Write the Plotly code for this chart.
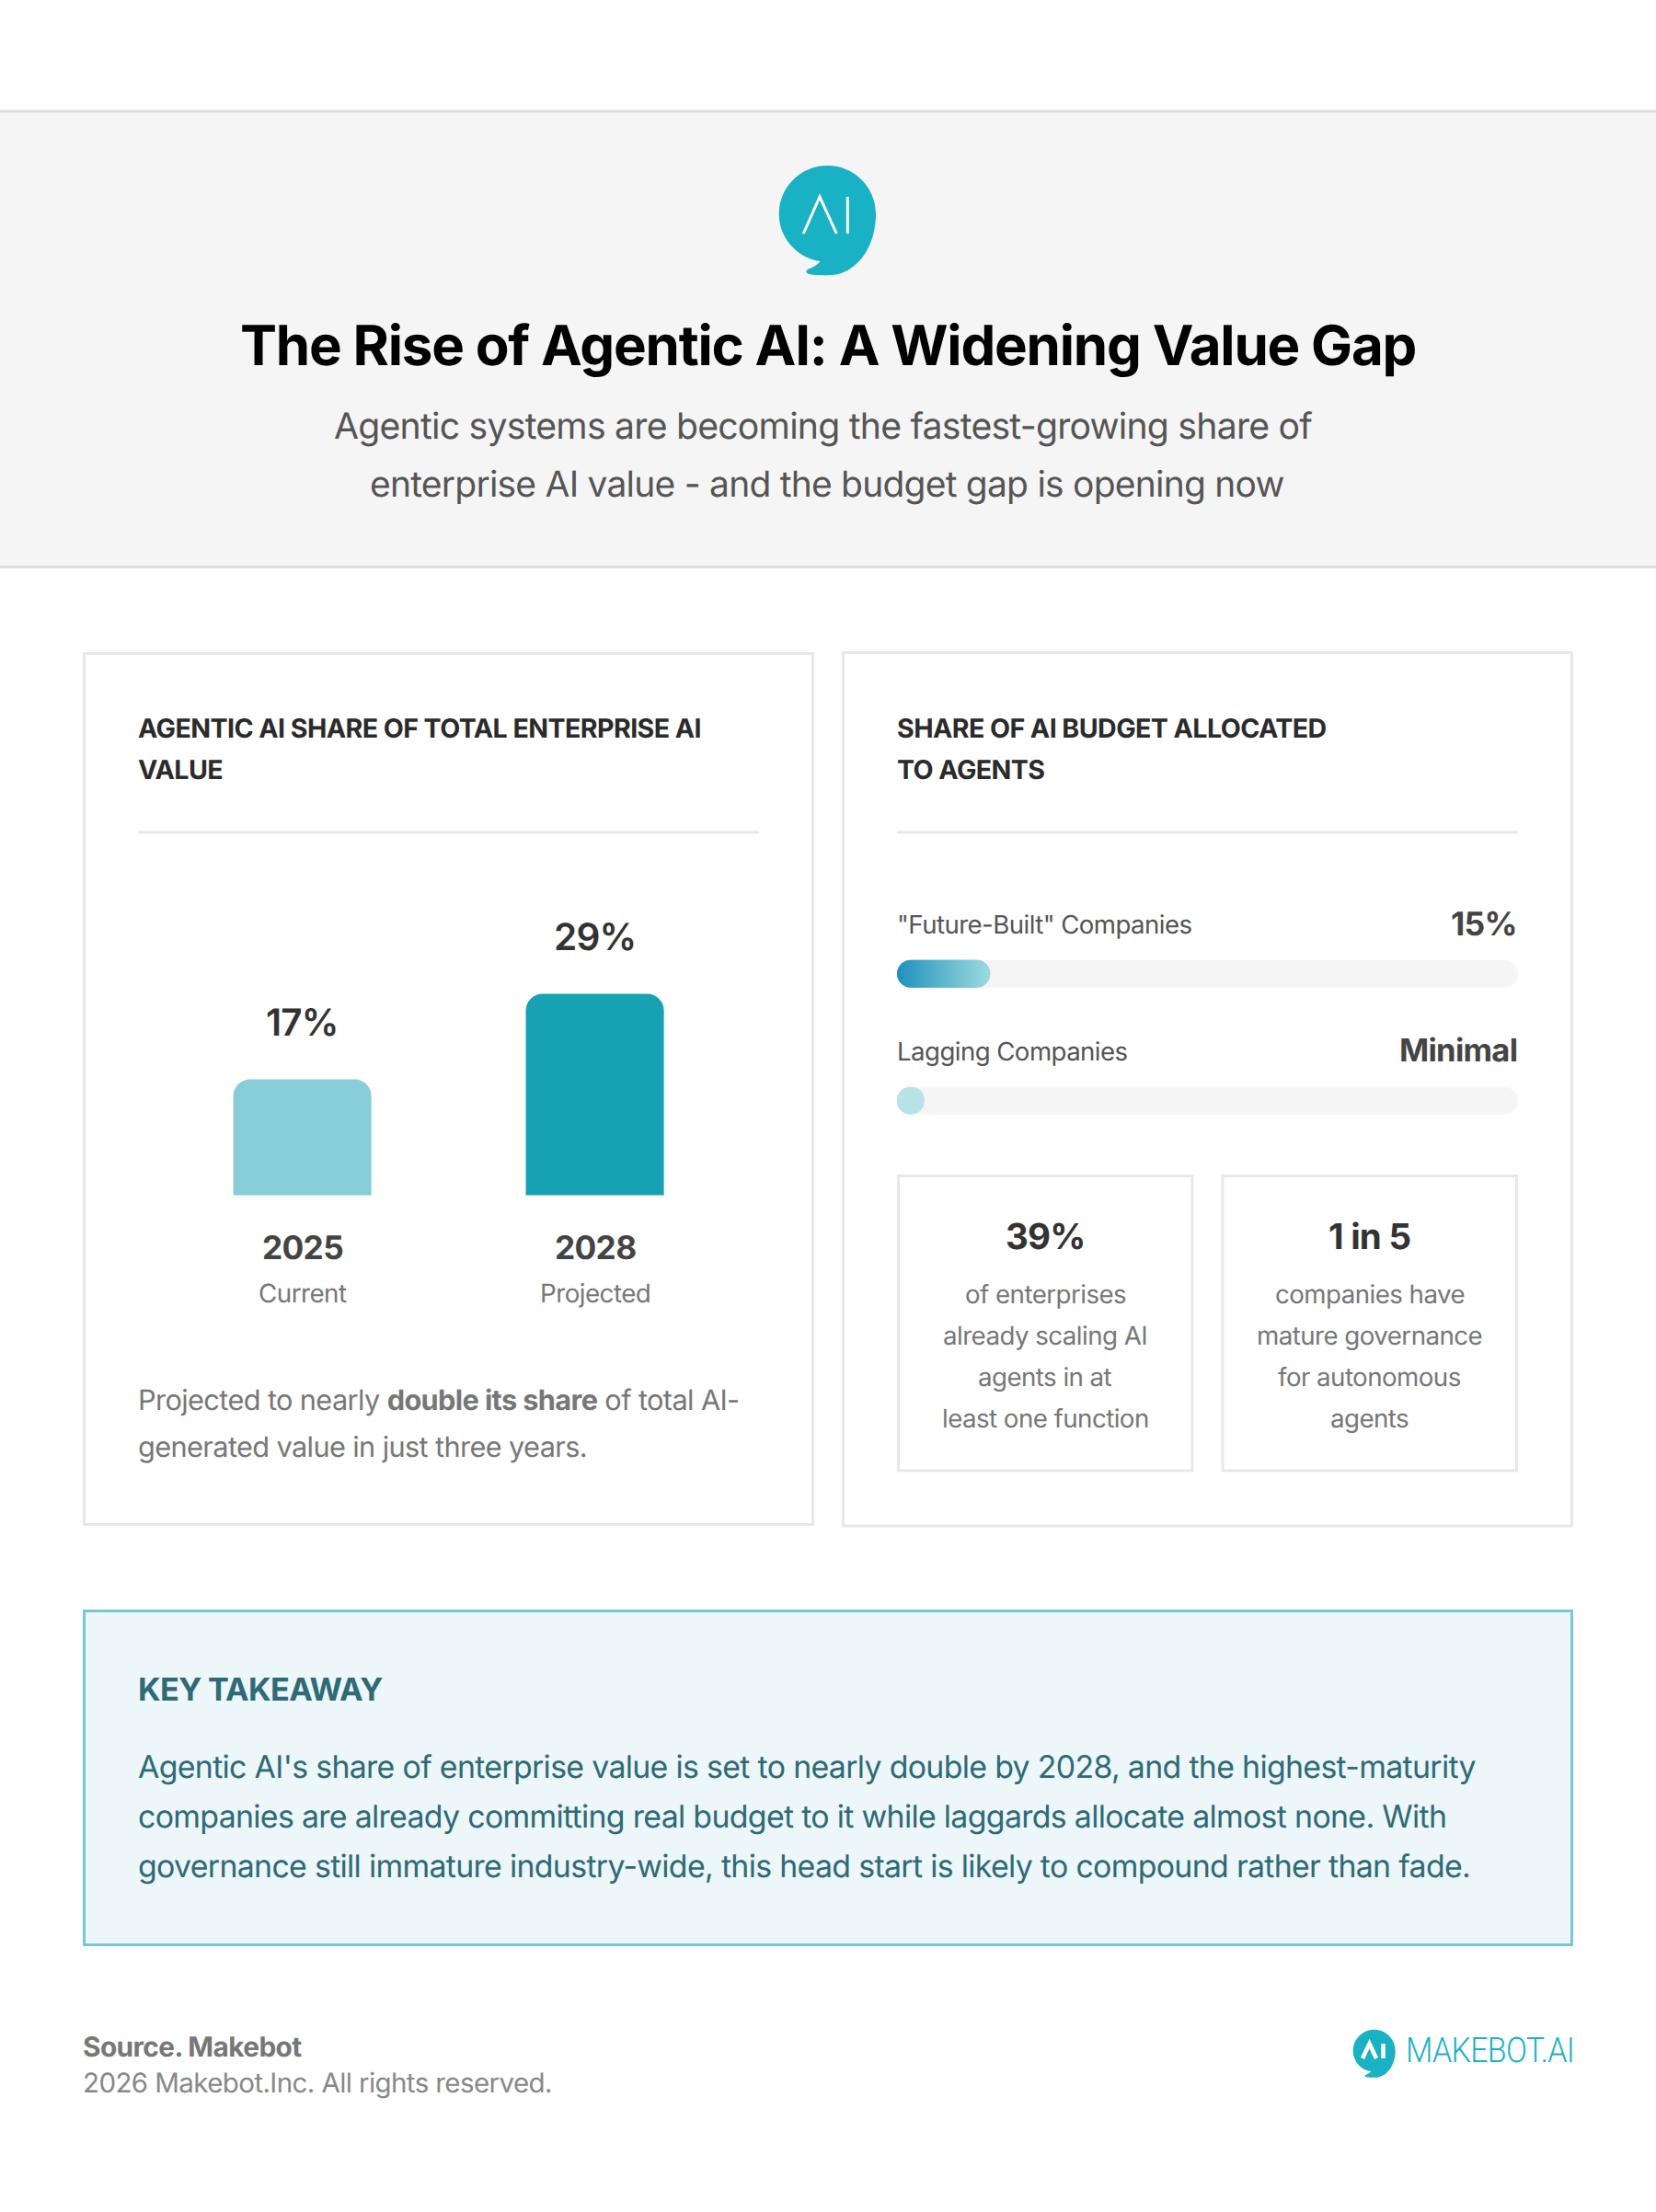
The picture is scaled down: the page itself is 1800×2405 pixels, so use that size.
import numpy as np
import plotly.graph_objects as go

W, H = 1800, 2405

# ---- data ----
years = ["2025", "2028"]
year_notes = ["Current", "Projected"]
share_values = [17, 29]
share_labels = ["17%", "29%"]
share_colors = ["#88ced8", "#16a2b3"]

company_groups = ['"Future-Built" Companies', "Lagging Companies"]
budget_values = [15, 4.4]
budget_labels = ["15%", "Minimal"]
budget_label_sizes = [35.5, 34.5]
track_values = [100, 100]
zero_base = [0, 0]

stat_heads = ["39%", "1 in 5"]
stat_lines = [
    ["of enterprises", "already scaling AI", "agents in at", "least one function"],
    ["companies have", "mature governance", "for autonomous", "agents"],
]
takeaway_lines = [
    "Agentic AI's share of enterprise value is set to nearly double by 2028, and the highest-maturity",
    "companies are already committing real budget to it while laggards allocate almost none. With",
    "governance still immature industry-wide, this head start is likely to compound rather than fade.",
]

FONT = "Inter"
TEAL = "#19b1c4"


def px(x):
    return x / W


def py(y):
    return 1 - y / H


shapes = []
annotations = []


def rect(x0, y0, x1, y1, fill="rgba(0,0,0,0)", line=None, lw=0):
    shapes.append(dict(type="rect", xref="paper", yref="paper", layer="below",
                       x0=px(x0), x1=px(x1), y0=py(y0), y1=py(y1),
                       fillcolor=fill, line=dict(color=line or fill, width=lw)))


def txt(text, x, y, size, color, anchor="left", weight=400, family=FONT):
    annotations.append(dict(text=text, xref="paper", yref="paper", x=px(x), y=py(y),
                            xanchor=anchor, yanchor="middle", showarrow=False, borderpad=0,
                            font=dict(family=family, size=size, color=color, weight=weight)))


def bubble(left, top, width):
    s = width / 316.0
    def p(a, b):
        return f"{px(left + (a - 80) * s):.6f},{py(top + (b - 60) * s):.6f}"
    d = ("M" + p(238, 60) +
         " C" + p(325, 60) + " " + p(396, 131) + " " + p(396, 218) +
         " C" + p(396, 330) + " " + p(330, 418) + " " + p(240, 418) +
         " C" + p(215, 418) + " " + p(195, 417) + " " + p(178, 414) +
         " C" + p(168, 412) + " " + p(166, 402) + " " + p(175, 398) +
         " C" + p(192, 392) + " " + p(206, 384) + " " + p(215, 372) +
         " C" + p(139, 362) + " " + p(80, 296) + " " + p(80, 218) +
         " C" + p(80, 131) + " " + p(151, 60) + " " + p(238, 60) + " Z")
    shapes.append(dict(type="path", xref="paper", yref="paper", path=d,
                       fillcolor=TEAL, line=dict(width=0)))


def stroke(points, width):
    d = "M" + " L".join(f"{px(a):.6f},{py(b):.6f}" for a, b in points)
    shapes.append(dict(type="path", xref="paper", yref="paper", path=d,
                       line=dict(color="#ffffff", width=width)))


# ---- header ----
rect(0, 121, W, 616, fill="#f5f5f5")
rect(0, 119.5, W, 122.5, fill="#dedede")
rect(0, 615, W, 618, fill="#dedede")
bubble(846.7, 180, 105.3)
stroke([(873.3, 254), (891, 214), (909.3, 254)], 3)
stroke([(921.3, 214), (921.3, 254)], 3)
txt("The Rise of Agentic AI: A Widening Value Gap", 899.5, 376, 60, "#000000", "center", 700)
txt("Agentic systems are becoming the fastest-growing share of", 894.5, 463, 39.2, "#555555", "center")
txt("enterprise AI value - and the budget gap is opening now", 899, 526, 39, "#555555", "center")

# ---- cards ----
for x0, x1, y0, y1 in [(91.5, 883.5, 710.5, 1657.5), (916.5, 1708.5, 709.5, 1659)]:
    rect(x0, y0, x1, y1, fill="#ffffff", line="#e8e8e8", lw=3)
    rect(x0 + 58.5, 903.5, x1 - 58.5, 906.5, fill="#e8e8e8")

HEAD = "#2b2b2b"
LEFT = 149
txt("AGENTIC AI SHARE OF TOTAL ENTERPRISE AI", LEFT, 791, 28.6, HEAD, "left", 700)
txt("VALUE", LEFT, 836, 28.6, HEAD, "left", 700)
txt("SHARE OF AI BUDGET ALLOCATED", 974, 791, 28.6, HEAD, "left", 700)
txt("TO AGENTS", 974, 836, 28.6, HEAD, "left", 700)

txt("Projected to nearly <b>double its share</b> of total AI-", LEFT, 1522, 30.7, "#777777")
txt("generated value in just three years.", LEFT, 1573, 30.7, "#777777")

# ---- stat boxes ----
for i, (x0, x1) in enumerate([(976.5, 1296), (1329, 1648.5)]):
    rect(x0, 1278.5, x1, 1599, fill="#ffffff", line="#e8e8e8", lw=3)
    cx = (x0 + x1) / 2
    txt(stat_heads[i], cx, 1345, 38.5, "#333333", "center", 700)
    for j, line in enumerate(stat_lines[i]):
        txt(line, cx, 1407 + j * 45, 27.7, "#777777", "center")

# ---- takeaway ----
rect(91.5, 1751.5, 1708.5, 2114.5, fill="#edf6f9", line="#7cc4d6", lw=3)
txt("KEY TAKEAWAY", LEFT, 1837, 34.3, "#2e6a78", "left", 700)
for j, line in enumerate(takeaway_lines):
    txt(line, LEFT, 1921.5 + j * 54, 33.85, "#2e6a78")

# ---- footer ----
txt("Source. Makebot", 89, 2226, 29.8, "#777777", "left", 700)
txt("2026 Makebot.Inc. All rights reserved.", 89, 2265, 29.5, "#888888")
bubble(1470.7, 2206.7, 46)
stroke([(1481, 2238), (1488.5, 2222), (1496, 2238)], 4.5)
stroke([(1503.5, 2222), (1503.5, 2238)], 4.5)
txt("MAKEBOT.AI", 1619, 2230, 38, TEAL, "center", 300, "Roboto")

fig = go.Figure()

# ---- vertical bars ----
fig.add_trace(go.Bar(x=years, y=share_values, marker=dict(color=share_colors, cornerradius=18, line=dict(width=0)),
                     width=0.472, xaxis="x", yaxis="y", hoverinfo="skip", showlegend=False))
for i, (note, val, lab, yr) in enumerate(zip(year_notes, share_values, share_labels, years)):
    annotations.append(dict(text=lab, x=i, y=val, xref="x", yref="y", xanchor="center", yanchor="middle",
                            showarrow=False, yshift=62, borderpad=0,
                            font=dict(family=FONT, size=40.5, color="#333333", weight=600)))
    annotations.append(dict(text=yr, x=i, y=0.74, xref="x", yref="y", xanchor="center", yanchor="middle",
                            showarrow=False, yshift=-57, borderpad=0,
                            font=dict(family=FONT, size=35.3, color="#444444", weight=700)))
    annotations.append(dict(text=note, x=i, y=0.74, xref="x", yref="y", xanchor="center", yanchor="middle",
                            showarrow=False, yshift=-106, borderpad=0,
                            font=dict(family=FONT, size=27.8, color="#777777")))

# ---- horizontal progress bars (explicit base rounds both ends) ----
positions = list(range(len(company_groups)))


def pill(values, colors):
    fig.add_trace(go.Bar(y=positions, x=values, base=zero_base, orientation="h", width=30 / 138,
                         marker=dict(color=colors, cornerradius=15, line=dict(width=0)),
                         xaxis="x2", yaxis="y2", hoverinfo="skip", showlegend=False))


pill(track_values, ["#f5f5f5", "#f5f5f5"])
pill(budget_values, ["#6bbfcf", "#b7e3e8"])

# gradient skin of the first bar, outline derived from its value
rx, ry = 15 / 675 * 100, 15 / 138
t = np.linspace(-np.pi / 2, np.pi / 2, 24)
v = budget_values[0]
gx = np.concatenate([v - rx + rx * np.cos(t), rx - rx * np.cos(t)])
gy = np.concatenate([positions[0] + ry * np.sin(t), positions[0] + ry * np.sin(t[::-1])])
fig.add_trace(go.Scatter(x=np.append(gx, gx[0]), y=np.append(gy, gy[0]), mode="lines", fill="toself",
                         line=dict(width=0, color="rgba(0,0,0,0)"),
                         fillgradient=dict(type="horizontal",
                                           colorscale=[[0, "#1f91bd"], [1, "#9cdbde"]]),
                         xaxis="x2", yaxis="y2", hoverinfo="skip", showlegend=False))

for pos, name, lab, lab_size in zip(positions, company_groups, budget_labels, budget_label_sizes):
    annotations.append(dict(text=name, x=0, y=pos, xref="x2", yref="y2", xanchor="left", yanchor="middle",
                            showarrow=False, yshift=54, xshift=-1, borderpad=0,
                            font=dict(family=FONT, size=27.6, color="#555555")))
    annotations.append(dict(text=lab, x=100, y=pos, xref="x2", yref="y2", xanchor="right", yanchor="middle",
                            showarrow=False, yshift=54, borderpad=0,
                            font=dict(family=FONT, size=lab_size, color="#444444", weight=700)))

fig.update_layout(
    width=W, height=H, margin=dict(l=0, r=0, t=0, b=0, pad=0), autosize=False,
    paper_bgcolor="#ffffff", plot_bgcolor="rgba(0,0,0,0)",
    barmode="overlay", showlegend=False, hovermode=False,
    shapes=shapes, annotations=annotations,
    xaxis=dict(domain=[px(169.6), px(805.6)], type="category", range=[-0.5, 1.5], visible=False, fixedrange=True),
    yaxis=dict(domain=[py(1299.6), py(1040)], range=[0.74, 34.24], visible=False, fixedrange=True),
    xaxis2=dict(domain=[px(975), px(1650)], range=[0, 100], visible=False, anchor="y2", fixedrange=True),
    yaxis2=dict(domain=[py(1265.7), py(989.7)], range=[1.5, -0.5], visible=False, anchor="x2", fixedrange=True),
)

POST = """
document.body.style.margin='0';document.body.style.overflow='hidden';
var s=document.createElement('style');
s.textContent='text{text-rendering:geometricPrecision !important;letter-spacing:-0.02em;}';
document.head.appendChild(s);
var gd=document.getElementById('{plot_id}');
var arr=gd.layout.annotations.map(function(a){var c=JSON.parse(JSON.stringify(a));c.font.size=c.font.size+0.01;return c;});
Plotly.relayout(gd,{annotations:arr}).then(function(){
  document.querySelectorAll('text.annotation-text').forEach(function(t){
    if(t.textContent==='MAKEBOT.AI'){t.setAttribute('textLength','183');t.setAttribute('lengthAdjust','spacingAndGlyphs');}
  });
});
"""
fig.write_html("out.html", config={"displayModeBar": False}, post_script=POST)
